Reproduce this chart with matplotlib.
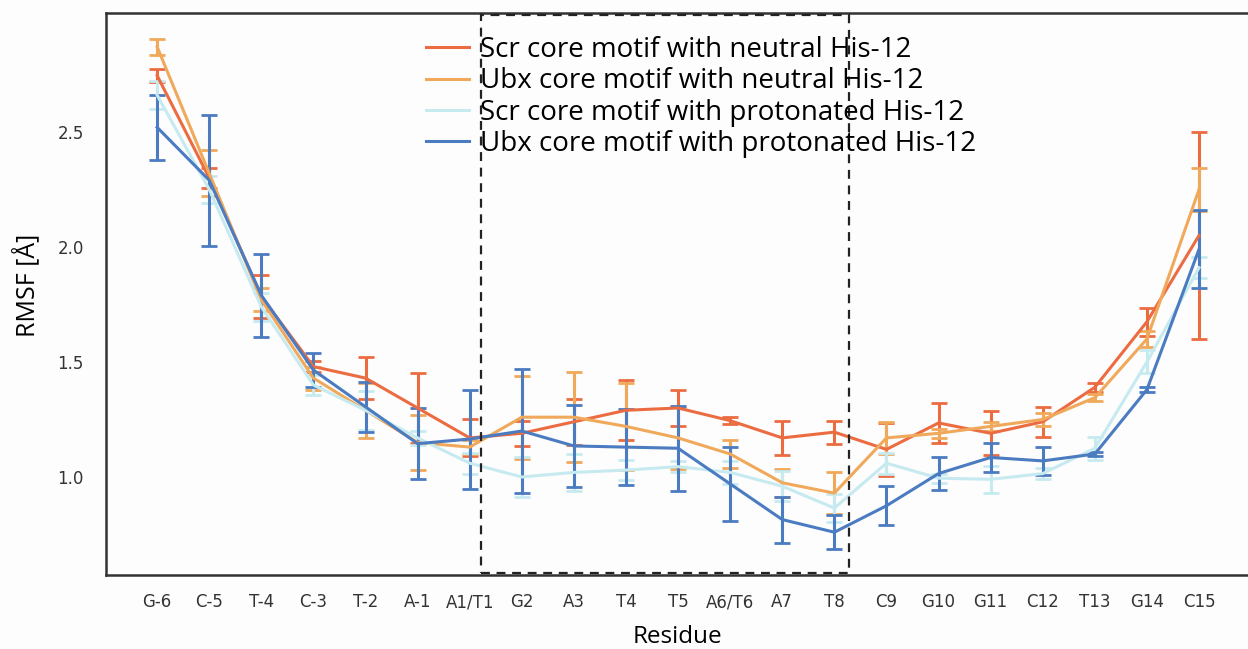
import numpy as np
import matplotlib
matplotlib.use('Agg')
import matplotlib.pyplot as plt
from matplotlib.patches import Rectangle
from matplotlib.lines import Line2D

# 残基ラベル
residues = ['G-6', 'C-5', 'T-4', 'C-3', 'T-2', 'A-1', 'A1/T1', 'G2', 'A3', 'T4', 'T5',
            'A6/T6', 'A7', 'T8', 'C9', 'G10', 'G11', 'C12', 'T13', 'G14', 'C15']

# RMSF の平均値と誤差
scr_neutral = [2.745, 2.30, 1.785, 1.48, 1.43, 1.30, 1.17, 1.19, 1.24, 1.29, 1.30,
               1.245, 1.17, 1.195, 1.12, 1.235, 1.19, 1.24, 1.39, 1.675, 2.05]
scr_neutral_err = [0.03, 0.045, 0.095, 0.025, 0.09, 0.15, 0.08, 0.055, 0.10, 0.13, 0.08,
                   0.015, 0.075, 0.05, 0.115, 0.085, 0.095, 0.065, 0.02, 0.06, 0.45]

ubx_neutral = [2.87, 2.32, 1.77, 1.43, 1.29, 1.15, 1.13, 1.26, 1.26, 1.22, 1.17,
               1.10, 0.975, 0.93, 1.17, 1.19, 1.22, 1.25, 1.345, 1.60, 2.25]
ubx_neutral_err = [0.035, 0.10, 0.05, 0.05, 0.12, 0.12, 0.03, 0.18, 0.195, 0.19, 0.135,
                   0.06, 0.06, 0.09, 0.07, 0.02, 0.02, 0.03, 0.015, 0.035, 0.095]

scr_prot = [2.66, 2.25, 1.74, 1.40, 1.29, 1.17, 1.06, 1.00, 1.02, 1.03, 1.045,
            1.02, 0.96, 0.865, 1.06, 0.995, 0.99, 1.015, 1.125, 1.50, 1.91]
scr_prot_err = [0.06, 0.06, 0.06, 0.045, 0.085, 0.03, 0.045, 0.085, 0.08, 0.045, 0.025,
                0.05, 0.065, 0.06, 0.045, 0.02, 0.06, 0.025, 0.05, 0.05, 0.045]

ubx_prot = [2.52, 2.29, 1.79, 1.465, 1.305, 1.145, 1.165, 1.20, 1.135, 1.13, 1.125,
            0.97, 0.815, 0.76, 0.875, 1.015, 1.085, 1.07, 1.10, 1.38, 1.99]
ubx_prot_err = [0.14, 0.285, 0.18, 0.075, 0.11, 0.155, 0.215, 0.27, 0.18, 0.165, 0.185,
                0.16, 0.10, 0.075, 0.085, 0.07, 0.065, 0.06, 0.01, 0.01, 0.17]

series = [
    ('Scr core motif with neutral His-12', scr_neutral, scr_neutral_err, '#ec6c41'),
    ('Ubx core motif with neutral His-12', ubx_neutral, ubx_neutral_err, '#f0a95b'),
    ('Scr core motif with protonated His-12', scr_prot, scr_prot_err, '#c6eaf0'),
    ('Ubx core motif with protonated His-12', ubx_prot, ubx_prot_err, '#4b7bc0'),
]

label_font = ['Open Sans', 'DejaVu Sans']

fig = plt.figure(figsize=(12.48, 6.49), dpi=100)
fig.patch.set_facecolor('#fdfdfd')
ax = fig.add_axes([0.085, 0.114, 0.915, 0.866])
ax.set_facecolor('#fdfdfd')

x = np.arange(len(residues))

# 各系列を誤差棒付きで描画
handles = []
for name, vals, errs, color in series:
    ax.errorbar(x, vals, yerr=errs, color=color, ecolor=color, lw=2.2,
                elinewidth=2.2, capsize=6, capthick=2.0)
    handles.append(Line2D([], [], color=color, lw=2.2, label=name))

# コアモチーフ領域の点線枠
rect = Rectangle((6.22, 0.583), 13.28 - 6.22, 3.008 - 0.583, fill=False,
                 edgecolor='#222222', lw=1.6, linestyle=(0, (4, 3)), zorder=5)
ax.add_patch(rect)

ax.set_xlim(-0.98, 20.94)
ax.set_ylim(0.574, 3.017)
ax.set_xticks(x)
ax.set_xticklabels(residues, fontsize=12, color='#333333')
ax.set_yticks([1.0, 1.5, 2.0, 2.5])
ax.set_yticklabels(['1.0', '1.5', '2.0', '2.5'], fontsize=12, color='#333333')
ax.tick_params(axis='both', length=0)
ax.tick_params(axis='x', pad=13)
ax.tick_params(axis='y', pad=16)

for side in ['left', 'bottom', 'top']:
    ax.spines[side].set_color('#333333')
    ax.spines[side].set_linewidth(1.8)
ax.spines['right'].set_visible(False)

ax.set_xlabel('Residue', fontsize=17.5, family=label_font, labelpad=10)
ax.set_ylabel('RMSF [Å]', fontsize=18, family=label_font)
ax.yaxis.set_label_coords(-0.058, 0.516)

# 凡例（線のみ）
leg = ax.legend(handles=handles, loc='upper left', bbox_to_anchor=(0.27, 0.979),
                frameon=False, prop={'family': label_font, 'size': 20},
                handlelength=1.55, handletextpad=0.42, labelspacing=0.12,
                borderaxespad=0)

fig.savefig('out.png', dpi=100, facecolor=fig.get_facecolor())
